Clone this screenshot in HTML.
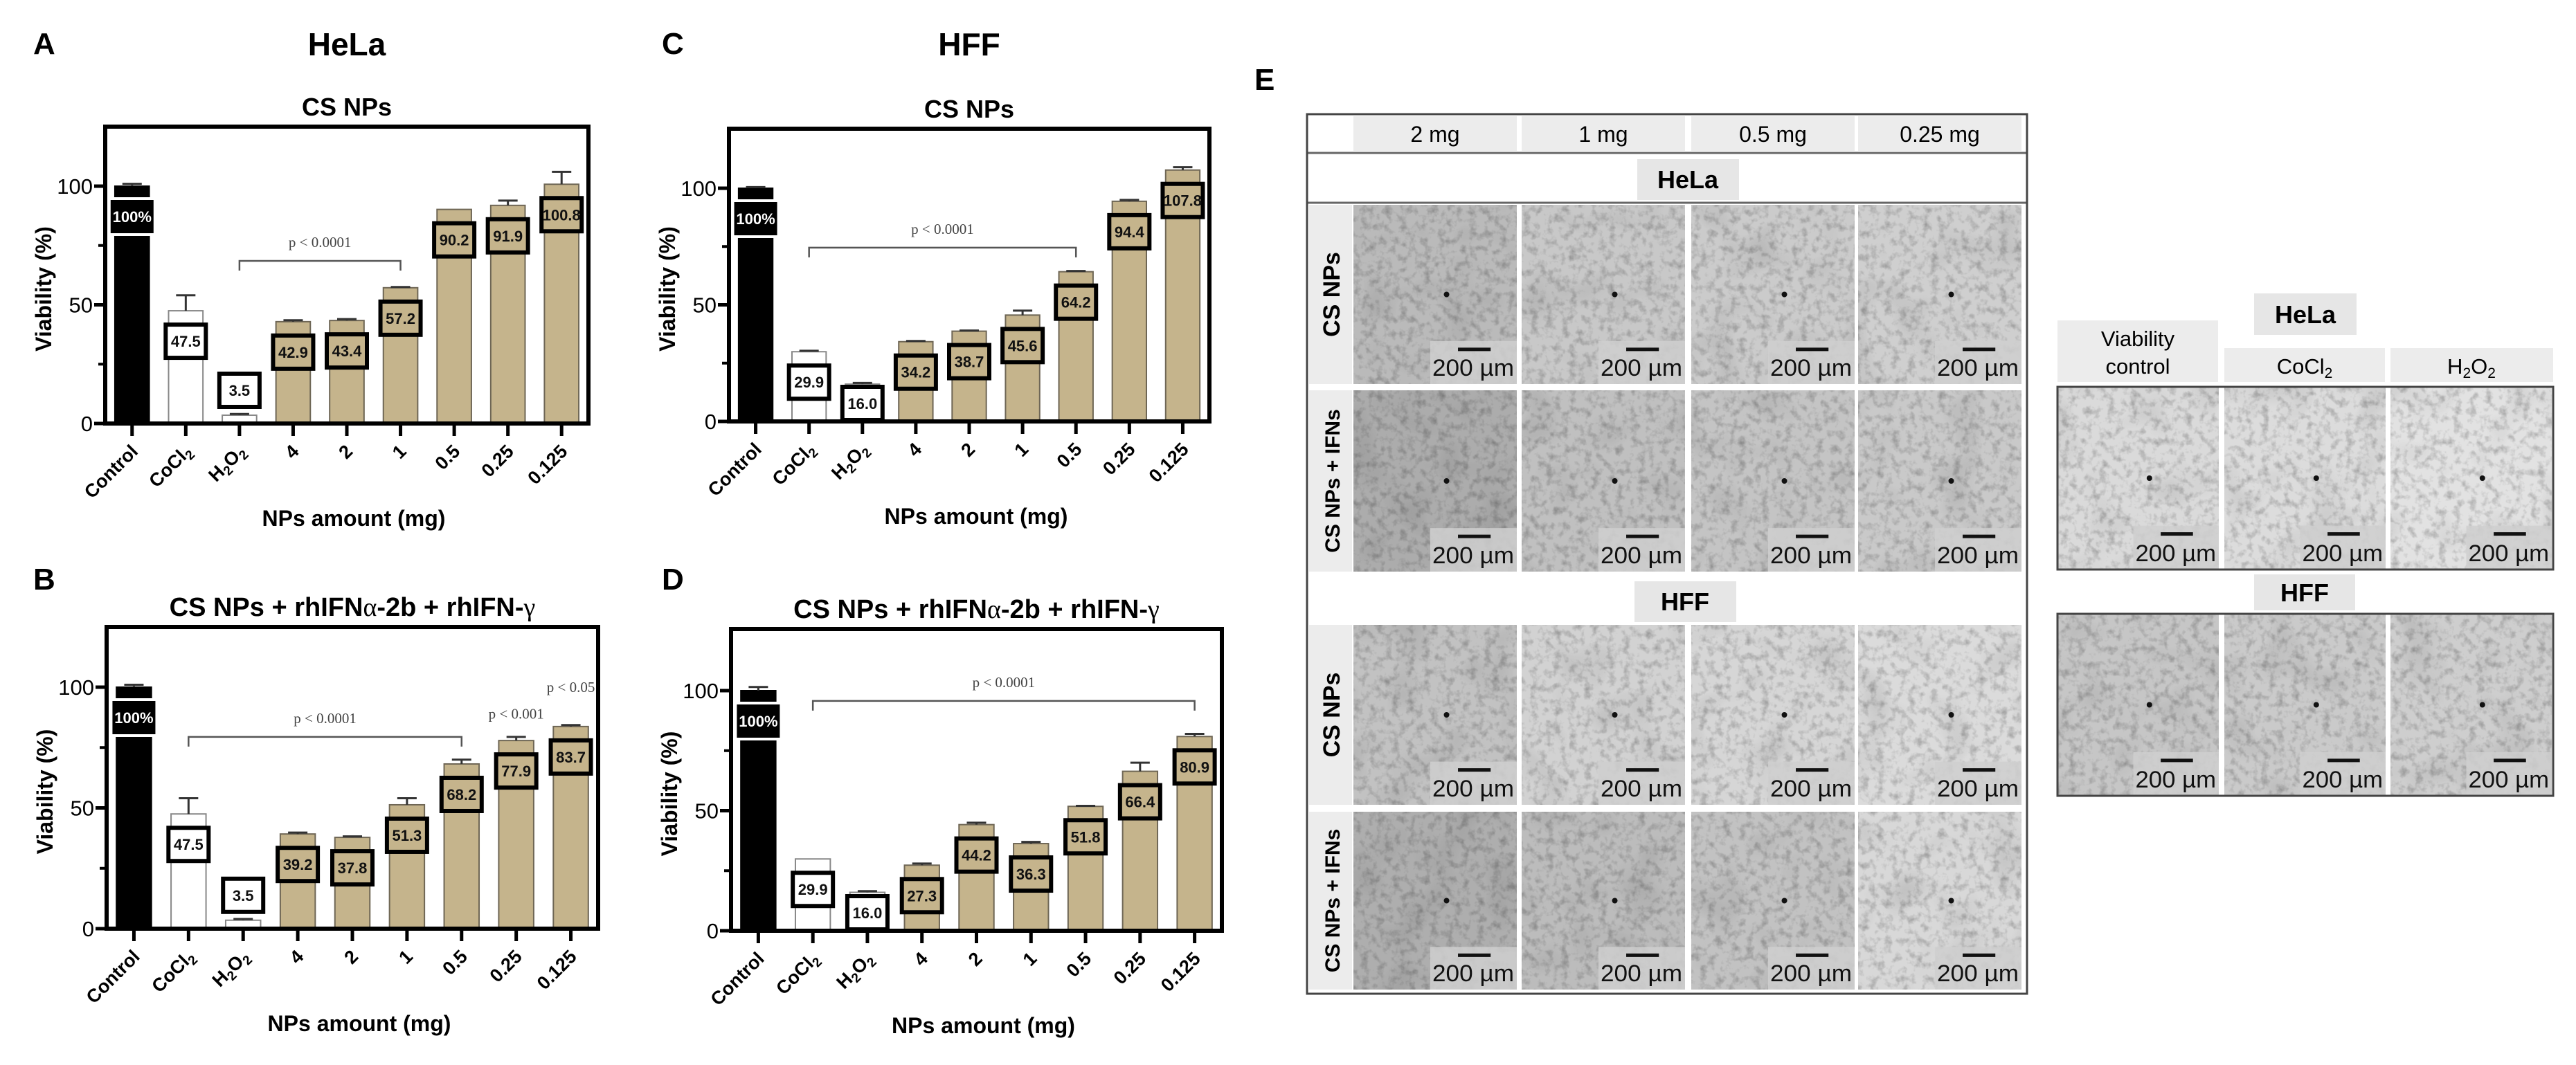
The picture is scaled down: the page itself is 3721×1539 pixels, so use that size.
<!DOCTYPE html>
<html><head><meta charset="utf-8"><style>
html,body{margin:0;padding:0;background:#fff;}
svg{display:block;font-family:"Liberation Sans",Arial,sans-serif;}
</style></head><body>
<svg id="fig" width="3721" height="1539" viewBox="0 0 3721 1539" xmlns="http://www.w3.org/2000/svg">
<defs>
<filter id="tex" x="0" y="0" width="100%" height="100%">
<feTurbulence type="fractalNoise" baseFrequency="0.09" numOctaves="3" seed="3"/>
<feColorMatrix type="matrix" values="0 0 0 0 0  0 0 0 0 0  0 0 0 0 0  -1.4 0 0 0 0.75"/>
</filter>
<filter id="tex2" x="0" y="0" width="100%" height="100%">
<feTurbulence type="fractalNoise" baseFrequency="0.015" numOctaves="2" seed="9"/>
<feColorMatrix type="matrix" values="0 0 0 0 0  0 0 0 0 0  0 0 0 0 0  -1.2 0 0 0 0.6"/>
</filter>
</defs>
<g id="charts"></g>
<g id="panelE"></g>
</svg>
<script>
const NS='http://www.w3.org/2000/svg';
const categories=['Control','CoCl2','H2O2','4','2','1','0.5','0.25','0.125'];
const valuesA=[100,47.5,3.5,42.9,43.4,57.2,90.2,91.9,100.8];
const errA=[1,6.5,0.5,0.6,0.6,0.3,0,2,5.2];
const labelsA=['100%','47.5','3.5','42.9','43.4','57.2','90.2','91.9','100.8'];
const valuesB=[100,47.5,3.5,39.2,37.8,51.3,68.2,77.9,83.7];
const errB=[1,6.5,0.5,0.6,0.4,2.7,1.8,1.5,0.6];
const labelsB=['100%','47.5','3.5','39.2','37.8','51.3','68.2','77.9','83.7'];
const valuesC=[100,29.9,16.0,34.2,38.7,45.6,64.2,94.4,107.8];
const errC=[0.5,0.4,0.5,0.3,0.3,1.9,0.3,0.6,1.2];
const labelsC=['100%','29.9','16.0','34.2','38.7','45.6','64.2','94.4','107.8'];
const valuesD=[100,29.9,16.0,27.3,44.2,36.3,51.8,66.4,80.9];
const errD=[1.5,0,0.5,0.7,0.8,0.7,0.2,3.6,1.1];
const labelsD=['100%','29.9','16.0','27.3','44.2','36.3','51.8','66.4','80.9'];
const yTicks=[0,50,100];
const yMinorTicks=[25,75];

function el(tag,attrs,parent,text){const e=document.createElementNS(NS,tag);for(const k in attrs)e.setAttribute(k,attrs[k]);if(text!==undefined)e.textContent=text;(parent||document.getElementById('charts')).appendChild(e);return e;}

function catLabel(g,c,x,y){
  const t=el('text',{x:x,y:y,'font-size':27,'font-weight':'bold','text-anchor':'end',transform:`rotate(-45 ${x} ${y})`},g);
  
  
  if(c==='CoCl2'){t.appendChild(document.createTextNode('CoCl'));el('tspan',{'font-size':19,dy:6},t,'2');}
  else if(c==='H2O2'){t.appendChild(document.createTextNode('H'));el('tspan',{'font-size':19,dy:6},t,'2');el('tspan',{dy:-6},t,'O');el('tspan',{'font-size':19,dy:6},t,'2');}
  else t.textContent=c;
}

function drawChart(p){
  const g=el('g',{});
  
  
  const y0=p.zero, ppu=(p.zero-p.y100)/100;
  const ys=v=>y0-v*ppu;
  const n=categories.length;
  const step=(p.right-p.left)/n;
  const xs=i=>p.left+step*(i+0.5);
  const bw=step*0.64;
  const L=el('text',{x:p.letterX,y:p.letterY,'font-size':44,'font-weight':'bold'},g,p.letter);
  
  if(p.cell){const c=el('text',{x:(p.left+p.right)/2,y:p.cellY,'font-size':46,'font-weight':'bold','text-anchor':'middle'},g,p.cell);}
  const T=el('text',{x:(p.left+p.right)/2,y:p.top-16,'font-size':p.titleSize,'font-weight':'bold','text-anchor':'middle'},g);
  
  if(p.ifn){T.appendChild(document.createTextNode('CS NPs + rhIFN'));el('tspan',{'font-family':'Liberation Serif, serif','font-weight':'normal'},T,'α');T.appendChild(document.createTextNode('-2b + rhIFN-'));el('tspan',{'font-family':'Liberation Serif, serif','font-weight':'normal'},T,'γ');}
  else T.textContent='CS NPs';
  const vals=p.values, errs=p.errs, labs=p.labels;
  for(let i=0;i<n;i++){
    const v=vals[i], top=ys(v), x=xs(i)-bw/2;
    let fill='#c5b48c',stroke='#6e6655',sw=2;
    if(i===0){fill='#000';stroke='#000';}
    else if(i<3){fill='#fff';stroke='#888';}
    const r=el('rect',{x:x,y:top,width:bw,height:y0-top,fill:fill,stroke:stroke,'stroke-width':sw},g);
    
    
    if(errs[i]>0){
      const ye=ys(v+errs[i]);
      el('line',{x1:xs(i),x2:xs(i),y1:top,y2:ye,stroke:'#333','stroke-width':3},g);
      el('line',{x1:xs(i)-14,x2:xs(i)+14,y1:ye,y2:ye,stroke:'#333','stroke-width':3},g);
    }
  }
  for(let i=0;i<n;i++){
    const v=vals[i], top=ys(v);
    let cy=top+44;
    if(v<10) cy=top-36;
    else if(cy+26>y0) cy=y0-26;
    const w=i===0?66:58,h=i===0?52:48;
    const box=el('rect',{x:xs(i)-w/2,y:cy-h/2,width:w,height:h,fill:i===0?'#000':(i<3?'#fff':'#c5b48c'),stroke:i===0?'#fff':'#000','stroke-width':i===0?4:6},g);
    
    const t=el('text',{x:xs(i),y:cy+8,'font-size':22,'font-weight':'bold','text-anchor':'middle',fill:i===0?'#fff':'#111'},g,labs[i]);
    
  }
  const f=el('rect',{x:p.left,y:p.top,width:p.right-p.left,height:y0-p.top,fill:'none',stroke:'#000','stroke-width':6},g);
  
  yTicks.forEach(v=>{el('line',{x1:p.left-16,x2:p.left,y1:ys(v),y2:ys(v),stroke:'#000','stroke-width':5},g);
    const t=el('text',{x:p.left-18,y:ys(v)+11,'font-size':31,'text-anchor':'end'},g,String(v));});
  yMinorTicks.forEach(v=>el('line',{x1:p.left-10,x2:p.left,y1:ys(v),y2:ys(v),stroke:'#000','stroke-width':4},g));
  for(let i=0;i<n;i++){el('line',{x1:xs(i),x2:xs(i),y1:y0,y2:y0+18,stroke:'#000','stroke-width':5},g);catLabel(g,categories[i],xs(i)+10,y0+42);}
  const yt=el('text',{x:0,y:0,'font-size':32,'font-weight':'bold','text-anchor':'middle',transform:`translate(${p.left-78} ${(p.top+y0)/2+20}) rotate(-90)`},g,'Viability (%)');
  
  const xt=el('text',{x:(p.left+p.right)/2+10,y:y0+148,'font-size':32,'font-weight':'bold','text-anchor':'middle'},g,'NPs amount (mg)');
  
  p.sig.forEach(s=>{
    if(s.from!==undefined){
      const yb=ys(s.at),x1=xs(s.from),x2=xs(s.to);
      const b=el('path',{d:`M${x1} ${yb+14}V${yb}H${x2}V${yb+14}`,fill:'none',stroke:'#555','stroke-width':2.5},g);
      
      const t=el('text',{x:(x1+x2)/2,y:yb-20,'font-size':21,'text-anchor':'middle',fill:'#444','font-family':'Liberation Serif, serif'},g,s.text);
      
    } else {
      const t=el('text',{x:xs(s.over),y:ys(s.at),'font-size':21,'text-anchor':'middle',fill:'#444','font-family':'Liberation Serif, serif'},g,s.text);
      
    }
  });
}
drawChart({name:'chart-a-hela-cs-nps',letter:'A',letterX:48,letterY:78,cell:'HeLa',cellY:80,left:152,right:850,top:183,y100:269,zero:612,titleSize:36,values:valuesA,errs:errA,labels:labelsA,
  sig:[{from:2,to:5,at:68.5,text:'p < 0.0001'}]});
drawChart({name:'chart-b-hela-cs-nps-ifns',letter:'B',letterX:48,letterY:852,left:154,right:864,top:906,y100:993,zero:1342,titleSize:38,ifn:true,values:valuesB,errs:errB,labels:labelsB,
  sig:[{from:1,to:6,at:79.4,text:'p < 0.0001'},{over:7,at:87,text:'p < 0.001'},{over:8,at:98,text:'p < 0.05'}]});
drawChart({name:'chart-c-hff-cs-nps',letter:'C',letterX:956,letterY:78,cell:'HFF',cellY:80,left:1053,right:1747,top:186,y100:272,zero:609,titleSize:36,values:valuesC,errs:errC,labels:labelsC,
  sig:[{from:1,to:6,at:74.5,text:'p < 0.0001'}]});
drawChart({name:'chart-d-hff-cs-nps-ifns',letter:'D',letterX:956,letterY:852,left:1056,right:1765,top:909,y100:998,zero:1345,titleSize:38,ifn:true,values:valuesD,errs:errD,labels:labelsD,
  sig:[{from:1,to:8,at:95.7,text:'p < 0.0001'}]});

// ---------- Panel E ----------
const E=document.getElementById('panelE');
function ee(tag,attrs,text){return el(tag,attrs,E,text);}
function micro(x,y,w,h,tone,name){
  const g=el('g',{},E);
  
  
  el('rect',{x:x,y:y,width:w,height:h,fill:tone},g);
  el('rect',{x:x,y:y,width:w,height:h,fill:'#000',filter:'url(#tex)',opacity:0.4},g);
  el('rect',{x:x,y:y,width:w,height:h,fill:'#000',filter:'url(#tex2)',opacity:0.2},g);
  el('circle',{cx:x+w*0.57,cy:y+h*0.5,r:4,fill:'#111'},g);
  const bx=x+w*0.47,by=y+h*0.76;
  el('rect',{x:bx,y:by,width:x+w-bx,height:y+h-by,fill:'#cfcfcf',opacity:0.85},g);
  el('line',{x1:bx+w*0.17,x2:bx+w*0.37,y1:by+12,y2:by+12,stroke:'#111','stroke-width':5},g);
  const t=el('text',{x:x+w-4,y:y+h-12,'font-size':34,'text-anchor':'end',fill:'#111',textLength:w*0.5,lengthAdjust:'spacingAndGlyphs'},g,'200 µm');
  
}
let t=ee('text',{x:1812,y:130,'font-size':44,'font-weight':'bold'},'E');
const colX=[1955,2198,2443,2684], colW=236;
const doses=['2 mg','1 mg','0.5 mg','0.25 mg'];
const rowsY=[[296,259],[564,262],[903,260],[1173,257]];
const tones=[['#bababa','#c8c8c8','#cbcbcb','#cfcfcf'],['#acacac','#c0c0c0','#c4c4c4','#c9c9c9'],['#c2c2c2','#d2d2d2','#d6d6d6','#dbdbdb'],['#aeaeae','#bcbcbc','#c2c2c2','#d8d8d8']];
const rowLabels=['CS NPs','CS NPs + IFNs','CS NPs','CS NPs + IFNs'];
ee('rect',{x:1888,y:165,width:1040,height:1271,fill:'#fff'});
doses.forEach((d,i)=>{ee('rect',{x:colX[i],y:168,width:colW,height:50,fill:'#ececec'});
  const tt=ee('text',{x:colX[i]+colW/2,y:205,'font-size':32,'text-anchor':'middle'},d);});
ee('line',{x1:1888,x2:2928,y1:221,y2:221,stroke:'#666','stroke-width':3});
ee('rect',{x:2365,y:230,width:147,height:59,fill:'#e6e6e6'});
t=ee('text',{x:2438,y:272,'font-size':36,'font-weight':'bold','text-anchor':'middle'},'HeLa');
ee('line',{x1:1888,x2:2928,y1:293,y2:293,stroke:'#666','stroke-width':3});
ee('rect',{x:2361,y:840,width:147,height:59,fill:'#e6e6e6'});
t=ee('text',{x:2434,y:882,'font-size':36,'font-weight':'bold','text-anchor':'middle'},'HFF');
rowsY.forEach((r,ri)=>{
  ee('rect',{x:1891,y:r[0],width:62,height:r[1],fill:'#ececec'});
  const lt=ee('text',{x:0,y:0,'font-size':ri%2?30:34,'font-weight':'bold','text-anchor':'middle',transform:`translate(${1935} ${r[0]+r[1]/2}) rotate(-90)`},rowLabels[ri]);
  
  colX.forEach((cx,ci)=>micro(cx,r[0],colW,r[1],tones[ri][ci],'micrograph-r'+(ri+1)+'-c'+(ci+1)));
});
t=ee('rect',{x:1888,y:165,width:1040,height:1271,fill:'none',stroke:'#444','stroke-width':3});

const rX=[2972,3213,3453], rW=233;
ee('rect',{x:3256,y:424,width:148,height:60,fill:'#e6e6e6'});
t=ee('text',{x:3330,y:467,'font-size':36,'font-weight':'bold','text-anchor':'middle'},'HeLa');
ee('rect',{x:2972,y:463,width:232,height:89,fill:'#ececec'});
ee('text',{x:3088,y:500,'font-size':31,'text-anchor':'middle'},'Viability');
ee('text',{x:3088,y:540,'font-size':31,'text-anchor':'middle'},'control');
ee('rect',{x:3213,y:503,width:232,height:49,fill:'#ececec'});
t=ee('text',{x:3329,y:540,'font-size':31,'text-anchor':'middle'},'CoCl');el('tspan',{'font-size':21,dy:6},t,'2');
ee('rect',{x:3453,y:503,width:235,height:49,fill:'#ececec'});
t=ee('text',{x:3570,y:540,'font-size':31,'text-anchor':'middle'},'H');el('tspan',{'font-size':21,dy:6},t,'2');el('tspan',{dy:-6},t,'O');el('tspan',{'font-size':21,dy:6},t,'2');
const ctrlTonesHela=['#dadada','#dcdcdc','#e2e2e2'], ctrlTonesHff=['#c6c6c6','#cacaca','#cecece'];
rX.forEach((x,i)=>micro(x,559,rW,264,ctrlTonesHela[i],'control-hela-'+(i+1)));
ee('rect',{x:2972,y:559,width:716,height:264,fill:'none',stroke:'#444','stroke-width':3});
ee('rect',{x:3256,y:830,width:146,height:52,fill:'#e6e6e6'});
t=ee('text',{x:3329,y:869,'font-size':36,'font-weight':'bold','text-anchor':'middle'},'HFF');
rX.forEach((x,i)=>micro(x,887,rW,263,ctrlTonesHff[i],'control-hff-'+(i+1)));
ee('rect',{x:2972,y:887,width:716,height:263,fill:'none',stroke:'#444','stroke-width':3});
</script>
</body></html>
